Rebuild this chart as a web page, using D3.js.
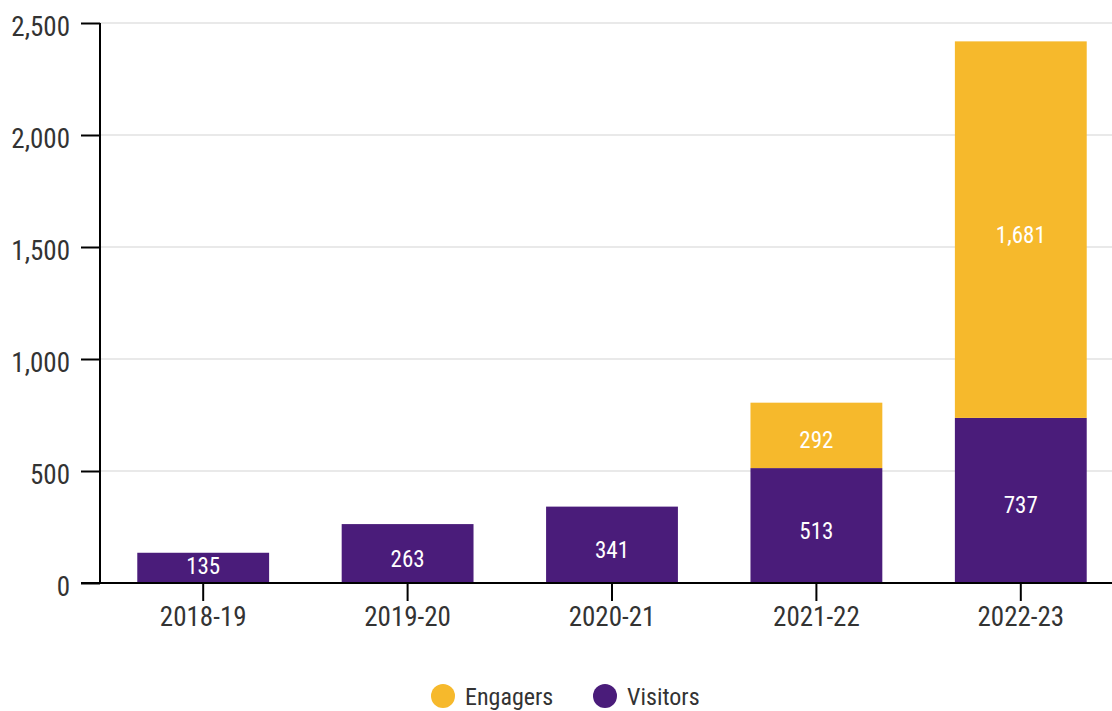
<!DOCTYPE html>
<html>
<head>
<meta charset="utf-8">
<script src="https://cdn.jsdelivr.net/npm/d3@7"></script>
<style>
  html, body { margin: 0; padding: 0; background: #fff; }
  svg text { font-family: "Roboto Condensed", "Roboto", sans-serif; font-stretch: 92%; font-weight: 380; }
</style>
</head>
<body>
<svg id="chart" width="1112" height="711"></svg>
<script>
const categories = ["2018-19", "2019-20", "2020-21", "2021-22", "2022-23"];
const visitors = [135, 263, 341, 513, 737];
const engagers = [0, 0, 0, 292, 1681];
const seriesNames = ["Engagers", "Visitors"];
const yTicks = [0, 500, 1000, 1500, 2000, 2500];

const colors = { Visitors: "#4a1c7a", Engagers: "#f6b92c" };

const svg = d3.select("#chart");
const x0 = 100, x1 = 1112, yTop = 23, yBot = 583;

const x = d3.scaleBand().domain(categories).range([101, 1123]).paddingInner(0.355).paddingOuter(0.1775);
const y = d3.scaleLinear().domain([0, 2500]).range([yBot, yTop]);

// gridlines
svg.append("g").selectAll("line").data(yTicks.filter(d => d > 0)).join("line")
  .attr("x1", x0).attr("x2", x1)
  .attr("y1", d => y(d)).attr("y2", d => y(d))
  .attr("stroke", "#e2e2e2").attr("stroke-width", 1.5);

const rows = categories.map((c, i) => ({ cat: c, Visitors: visitors[i], Engagers: engagers[i] }));
const stack = d3.stack().keys(["Visitors", "Engagers"])(rows);

const bars = svg.append("g");
stack.forEach(layer => {
  bars.selectAll(null).data(layer.filter(d => d[1] - d[0] > 0)).join("rect")
    .attr("x", d => x(d.data.cat))
    .attr("width", x.bandwidth())
    .attr("y", d => y(d[1]))
    .attr("height", d => y(d[0]) - y(d[1]))
    .attr("fill", colors[layer.key]);
});

// labels
const fmt = d3.format(",");
stack.forEach(layer => {
  bars.selectAll(null).data(layer.filter(d => d[1] - d[0] > 0)).join("text")
    .attr("x", d => x(d.data.cat) + x.bandwidth() / 2)
    .attr("y", d => {
      const mid = (y(d[0]) + y(d[1])) / 2;
      return Math.min(mid + 13, y(d[0]) - 9);
    })
    .attr("text-anchor", "middle")
    .attr("fill", "#fff")
    .attr("font-size", 23)
    .text(d => fmt(d[1] - d[0]));
});

// y axis
const yAxis = svg.append("g").attr("transform", `translate(${x0},0)`)
  .call(d3.axisLeft(y).tickValues(yTicks).tickFormat(fmt).tickSize(19).tickPadding(11));
yAxis.select(".domain").attr("stroke", "#000").attr("stroke-width", 2).attr("d", `M0,${yTop}V${yBot}`);
yAxis.selectAll(".tick line").attr("stroke", "#000").attr("stroke-width", 2);
yAxis.selectAll(".tick text").attr("font-size", 27).attr("fill", "#333").attr("dy", "0.48em");

// x axis
const xAxis = svg.append("g").attr("transform", `translate(0,${yBot})`)
  .call(d3.axisBottom(x).tickSize(18).tickPadding(6));
xAxis.select(".domain").attr("stroke", "#000").attr("stroke-width", 2).attr("d", `M81,0H${x1}`);
xAxis.selectAll(".tick line").attr("stroke", "#000").attr("stroke-width", 2);
xAxis.selectAll(".tick text").attr("font-size", 27).attr("fill", "#333").attr("dy", "0.71em");

// legend
const legend = svg.append("g");
const legendX = [443, 605];
seriesNames.forEach((s, i) => {
  legend.append("circle").attr("cx", legendX[i]).attr("cy", 696).attr("r", 12).attr("fill", colors[s]);
  legend.append("text").attr("x", legendX[i] + 22).attr("y", 705)
    .attr("font-size", 24).attr("fill", "#333").text(s);
});
</script>
</body>
</html>
